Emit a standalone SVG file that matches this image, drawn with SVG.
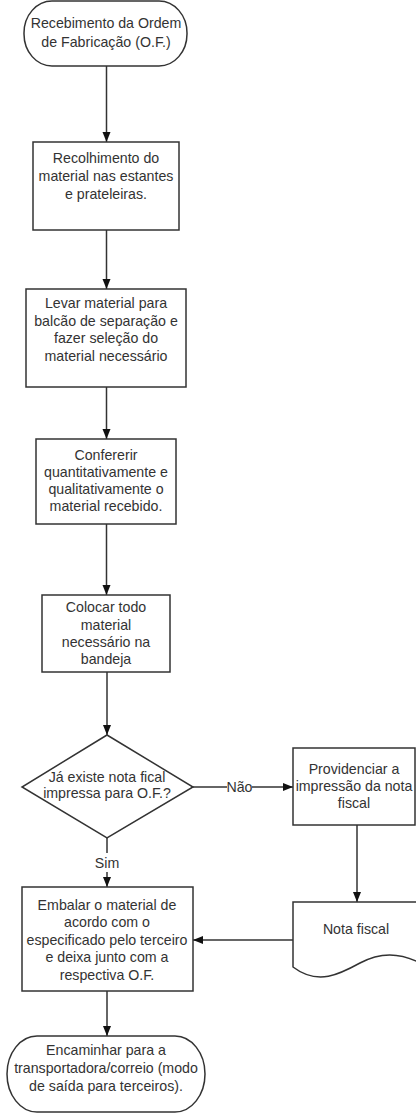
<svg xmlns="http://www.w3.org/2000/svg" width="416" height="1113" viewBox="0 0 416 1113">
<style>
.s{fill:#fff;stroke:#333;stroke-width:1.5}
.c{fill:none;stroke:#333;stroke-width:1.5}
text{font-family:"Liberation Sans",Arial,sans-serif;font-size:14.2px;fill:#333;text-anchor:middle}
</style>
<defs>
<marker id="ah" markerUnits="userSpaceOnUse" markerWidth="10" markerHeight="10" viewBox="0 0 10 10" refX="10" refY="5" orient="auto">
<path d="M0,1 L10,5 L0,9 Z" fill="#111"/>
</marker>
</defs>
<rect width="416" height="1113" fill="#fff"/>
<g id="connectors">
<line class="c" x1="106.5" y1="66" x2="106.5" y2="142" marker-end="url(#ah)"/>
<line class="c" x1="106.5" y1="230" x2="106.5" y2="289" marker-end="url(#ah)"/>
<line class="c" x1="106.5" y1="387" x2="106.5" y2="439" marker-end="url(#ah)"/>
<line class="c" x1="106.5" y1="524" x2="106.5" y2="595" marker-end="url(#ah)"/>
<line class="c" x1="107" y1="672" x2="107" y2="735" marker-end="url(#ah)"/>
<line class="c" x1="193" y1="787" x2="227" y2="787"/>
<line class="c" x1="252" y1="787" x2="293" y2="787" marker-end="url(#ah)"/>
<text x="239.5" y="792">Não</text>
<line class="c" x1="107" y1="838" x2="107" y2="853"/>
<line class="c" x1="107" y1="872" x2="107" y2="887" marker-end="url(#ah)"/>
<text x="107" y="868">Sim</text>
<line class="c" x1="357" y1="825" x2="357" y2="902" marker-end="url(#ah)"/>
<line class="c" x1="293" y1="940" x2="193" y2="940" marker-end="url(#ah)"/>
<line class="c" x1="107" y1="991" x2="107" y2="1036" marker-end="url(#ah)"/>
</g>
<g id="n1">
<rect class="s" x="24" y="1" width="163" height="65" rx="28" ry="32"/>
<text x="106" y="28">Recebimento da Ordem</text>
<text x="106" y="47">de Fabricação (O.F.)</text>
</g>
<g id="n2">
<rect class="s" x="33" y="142" width="146" height="88"/>
<text x="106" y="163">Recolhimento do</text>
<text x="106" y="181">material nas estantes</text>
<text x="106" y="199">e prateleiras.</text>
</g>
<g id="n3">
<rect class="s" x="26" y="289" width="160" height="98"/>
<text x="106" y="308">Levar material para</text>
<text x="106" y="325.5">balcão de separação e</text>
<text x="106" y="343">fazer seleção do</text>
<text x="106" y="360.5">material necessário</text>
</g>
<g id="n4">
<rect class="s" x="36" y="439" width="140" height="85"/>
<text x="106" y="460">Confererir</text>
<text x="106" y="477">quantitativamente e</text>
<text x="106" y="494">qualitativamente o</text>
<text x="106" y="511">material recebido.</text>
</g>
<g id="n5">
<rect class="s" x="42" y="595" width="128" height="77"/>
<text x="106" y="612">Colocar todo</text>
<text x="106" y="630">material</text>
<text x="106" y="647">necessário na</text>
<text x="106" y="664">bandeja</text>
</g>
<g id="n6">
<polygon class="s" points="107,735 193,787 107,838 22,787"/>
<text x="107" y="782">Já existe nota fical</text>
<text x="107" y="798">impressa para O.F.?</text>
</g>
<g id="n7">
<rect class="s" x="293" y="748" width="122" height="77"/>
<text x="354" y="774">Providenciar a</text>
<text x="354" y="791">impressão da nota</text>
<text x="354" y="808">fiscal</text>
</g>
<g id="n8">
<path class="s" d="M293,902 H418 V962 C400,953 380,952 360,963 C340,974 318,986 293,967 Z"/>
<text x="356" y="934">Nota fiscal</text>
</g>
<g id="n9">
<rect class="s" x="22" y="887" width="171" height="104"/>
<text x="107" y="910">Embalar o material de</text>
<text x="107" y="927">acordo com o</text>
<text x="107" y="945">especificado pelo terceiro</text>
<text x="107" y="962">e deixa junto com a</text>
<text x="107" y="980">respectiva O.F.</text>
</g>
<g id="n10">
<rect class="s" x="7" y="1036" width="198" height="76" rx="30" ry="38"/>
<text x="106" y="1055">Encaminhar para a</text>
<text x="106" y="1073">transportadora/correio (modo</text>
<text x="106" y="1091">de saída para terceiros).</text>
</g>
</svg>
